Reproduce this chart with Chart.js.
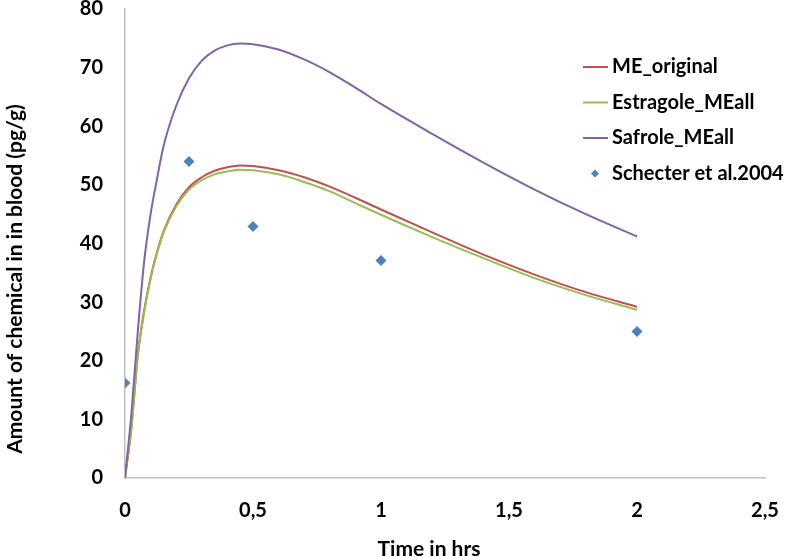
<!DOCTYPE html>
<html>
<head>
<meta charset="utf-8">
<script src="https://cdn.jsdelivr.net/npm/chart.js@4/dist/chart.umd.min.js"></script>
<style>
  html, body { margin: 0; padding: 0; background: #fff; }
  #wrap { width: 787px; height: 557px; }
</style>
</head>
<body>
<div id="wrap"><canvas id="c" width="787" height="557"></canvas></div>
<script>
const timeHrs = [0, 0.025, 0.05, 0.075, 0.1, 0.125, 0.15, 0.2, 0.25, 0.3, 0.35, 0.4, 0.45, 0.5, 0.6, 0.7, 0.8, 0.9, 1.0, 1.2, 1.4, 1.6, 1.8, 2.0];
const meOriginal = [0, 8.6, 21.0, 28.6, 34.2, 38.5, 42.0, 46.6, 49.6, 51.3, 52.4, 53.0, 53.3, 53.2, 52.5, 51.3, 49.7, 47.8, 45.8, 41.9, 38.1, 34.7, 31.7, 29.2];
const estragoleMEall = [0, 8.5, 20.8, 28.3, 34.0, 38.3, 41.8, 46.3, 49.2, 50.8, 51.8, 52.3, 52.6, 52.5, 51.8, 50.5, 48.9, 46.9, 44.9, 41.1, 37.5, 34.1, 31.2, 28.7];
const safroleMEall = [0, 11.0, 25.0, 37.0, 45.0, 51.0, 56.5, 63.5, 68.2, 71.2, 72.9, 73.8, 74.1, 74.0, 73.1, 71.4, 69.2, 66.6, 63.8, 58.7, 53.8, 49.2, 45.0, 41.2];
const obsTime = [0, 0.25, 0.5, 1, 2];
const schecter2004 = [16.2, 54.0, 42.9, 37.1, 25.0];

const xTitle = 'Time in hrs';
const yTitle = 'Amount of chemical in in blood (pg/g)';
const FONT = 'Lato, "Open Sans", sans-serif';

const toPoints = (xs, ys) => xs.map((x, i) => ({x: x, y: ys[i]}));

const lineSet = (label, values, color, order) => ({
  label: label,
  data: toPoints(timeHrs, values),
  showLine: true,
  borderColor: color,
  backgroundColor: color,
  borderWidth: 2,
  pointRadius: 0,
  cubicInterpolationMode: 'monotone',
  order: order
});

// legend and axis titles drawn by hand so they sit where the original puts them
const decorations = {
  id: 'decorations',
  afterDraw(chart) {
    const ctx = chart.ctx;
    ctx.save();
    ctx.fillStyle = '#000';
    ctx.font = 'bold 21px ' + FONT;
    ctx.textAlign = 'center';
    ctx.textBaseline = 'middle';
    ctx.fillText(xTitle, 429, 549);
    ctx.translate(15, 279);
    ctx.rotate(-Math.PI / 2);
    ctx.fillText(yTitle, 0, 0);
    ctx.restore();

    ctx.save();
    ctx.font = 'bold 20px ' + FONT;
    ctx.textAlign = 'left';
    ctx.textBaseline = 'middle';
    chart.data.datasets.forEach((ds, i) => {
      const y = 67 + i * 35.5;
      if (ds.showLine) {
        ctx.strokeStyle = ds.borderColor;
        ctx.lineWidth = 2;
        ctx.beginPath();
        ctx.moveTo(583, y);
        ctx.lineTo(608, y);
        ctx.stroke();
      } else {
        ctx.fillStyle = ds.backgroundColor;
        ctx.beginPath();
        ctx.moveTo(595, y - 4);
        ctx.lineTo(599, y);
        ctx.lineTo(595, y + 4);
        ctx.lineTo(591, y);
        ctx.closePath();
        ctx.fill();
      }
      ctx.fillStyle = '#000';
      ctx.fillText(ds.label, 612, y);
    });
    ctx.restore();
  }
};

new Chart(document.getElementById('c'), {
  type: 'scatter',
  data: {
    datasets: [
      lineSet('ME_original', meOriginal, '#C0504D', 3),
      lineSet('Estragole_MEall', estragoleMEall, '#9BBB59', 2),
      lineSet('Safrole_MEall', safroleMEall, '#8064A2', 1),
      {
        label: 'Schecter et al.2004',
        data: toPoints(obsTime, schecter2004),
        showLine: false,
        pointStyle: 'rectRot',
        pointRadius: 5.5,
        borderWidth: 0,
        borderColor: '#4F81BD',
        backgroundColor: '#4F81BD',
        order: 0
      }
    ]
  },
  options: {
    responsive: false,
    animation: false,
    layout: { padding: { left: 0, top: 9, right: 22, bottom: 0 } },
    plugins: {
      legend: { display: false },
      tooltip: { enabled: false }
    },
    scales: {
      x: {
        type: 'linear',
        min: 0,
        max: 2.5,
        grid: { display: false, drawTicks: false },
        border: { display: true, color: '#BEBEBE', width: 1.5 },
        ticks: {
          stepSize: 0.5,
          padding: 21,
          color: '#000',
          font: { family: FONT, size: 20, weight: 'bold' },
          callback: v => String(v).replace('.', ',')
        },
        afterFit(scale) {
          scale.height = 79;
          scale.paddingRight = 0;
        }
      },
      y: {
        min: 0,
        max: 80,
        grid: { display: false, drawTicks: false },
        border: { display: true, color: '#BEBEBE', width: 1.5 },
        ticks: {
          stepSize: 10,
          padding: 22,
          color: '#000',
          font: { family: FONT, size: 20, weight: 'bold' }
        },
        afterFit(scale) {
          scale.width = 125;
          scale.paddingTop = 0;
          scale.paddingBottom = 0;
        }
      }
    }
  },
  plugins: [decorations]
});
</script>
</body>
</html>
